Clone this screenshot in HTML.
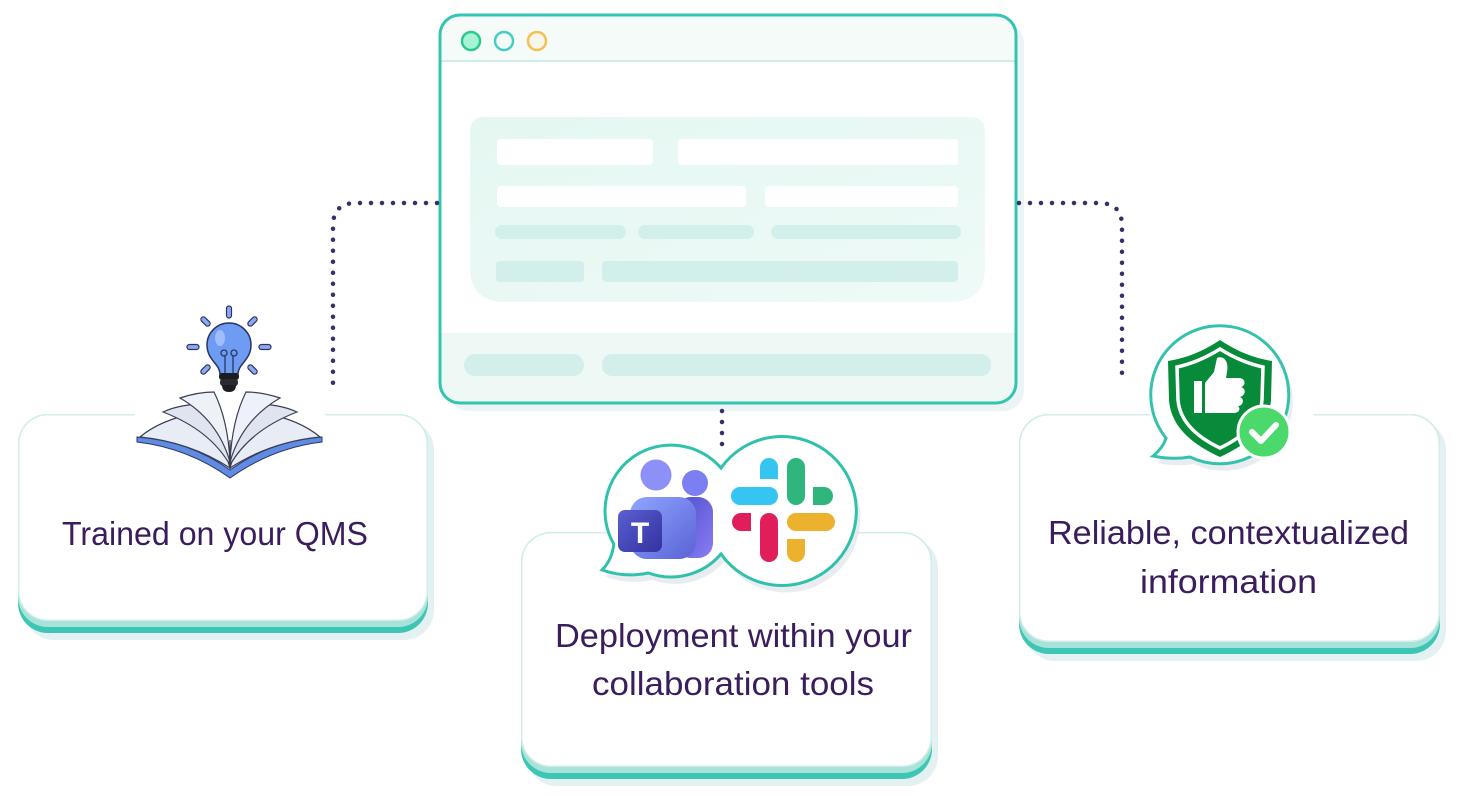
<!DOCTYPE html>
<html><head><meta charset="utf-8"><style>
html,body{margin:0;padding:0;background:#fff;}
svg{display:block;}
text{font-family:"Liberation Sans",sans-serif;fill:#3a1d5c;}
</style></head><body>
<svg width="1468" height="796" viewBox="0 0 1468 796" xmlns="http://www.w3.org/2000/svg">
<defs>
<linearGradient id="panel" x1="0" y1="0" x2="1" y2="1"><stop offset="0" stop-color="#e5f7f2"/><stop offset="1" stop-color="#eefaf7"/></linearGradient>
<linearGradient id="tbig" x1="0" y1="0" x2="1" y2="1"><stop offset="0" stop-color="#8fa6ff"/><stop offset="1" stop-color="#5a62d6"/></linearGradient>
<linearGradient id="tsmall" x1="0" y1="0" x2="1" y2="1"><stop offset="0" stop-color="#4d4fc9"/><stop offset="1" stop-color="#8a7cf5"/></linearGradient>
<linearGradient id="tsq" x1="0" y1="0" x2="1" y2="1"><stop offset="0" stop-color="#5a5fd0"/><stop offset="1" stop-color="#3332a0"/></linearGradient>
<clipPath id="win"><rect x="440" y="15" width="576" height="388" rx="20"/></clipPath>
</defs>

<!-- ===== Cards ===== -->
<rect x="24" y="420" width="410" height="220" rx="30" fill="#e4f1f3"/>
<rect x="18" y="414" width="410" height="219" rx="30" fill="#3cc6b3"/>
<rect x="18" y="414" width="410" height="213" rx="30" fill="#a8e3da"/>
<rect x="18.75" y="414.75" width="408.5" height="205.5" rx="29" fill="#fff" stroke="#d3eeea" stroke-width="1.5"/>

<rect x="527" y="538" width="411" height="248" rx="30" fill="#e4f1f3"/>
<rect x="521" y="532" width="411" height="247" rx="30" fill="#3cc6b3"/>
<rect x="521" y="532" width="411" height="241" rx="30" fill="#a8e3da"/>
<rect x="521.75" y="532.75" width="409.5" height="233.5" rx="29" fill="#fff" stroke="#d3eeea" stroke-width="1.5"/>

<rect x="1025" y="420" width="421" height="241" rx="30" fill="#e4f1f3"/>
<rect x="1019" y="414" width="421" height="240" rx="30" fill="#3cc6b3"/>
<rect x="1019" y="414" width="421" height="234" rx="30" fill="#a8e3da"/>
<rect x="1019.75" y="414.75" width="419.5" height="226.5" rx="29" fill="#fff" stroke="#d3eeea" stroke-width="1.5"/>

<!-- ===== Browser window ===== -->
<rect x="448" y="23" width="576" height="388" rx="20" fill="#edf4f6"/>
<g clip-path="url(#win)">
<rect x="440" y="15" width="576" height="388" fill="#fff"/>
<rect x="440" y="15" width="576" height="46" fill="#f4fbf8"/>
<rect x="440" y="333" width="576" height="70" fill="#eef9f6"/>
</g>
<line x1="441" y1="61" x2="1015" y2="61" stroke="#bfe9e1" stroke-width="1.5"/>
<rect x="440" y="15" width="576" height="388" rx="20" fill="none" stroke="#33c5b1" stroke-width="3"/>
<circle cx="471" cy="41" r="9" fill="#a3f5d6" stroke="#2cc890" stroke-width="2.5"/>
<circle cx="504" cy="41" r="9" fill="#f3fbf9" stroke="#45cdc2" stroke-width="2.5"/>
<circle cx="537" cy="41" r="9" fill="#f7f6ec" stroke="#f6c14a" stroke-width="2.5"/>
<path d="M485 117 H970 Q985 117 985 132 V267 Q985 302 950 302 H505 Q470 302 470 267 V132 Q470 117 485 117 Z" fill="url(#panel)"/>
<rect x="497" y="139" width="156" height="26" rx="4" fill="#fff"/>
<rect x="678" y="139" width="280" height="26" rx="4" fill="#fff"/>
<rect x="497" y="186" width="249" height="21" rx="4" fill="#fff"/>
<rect x="765" y="186" width="193" height="21" rx="4" fill="#fff"/>
<rect x="495" y="225" width="131" height="14" rx="7" fill="#d3efeb"/>
<rect x="638" y="225" width="116" height="14" rx="7" fill="#d3efeb"/>
<rect x="771" y="225" width="190" height="14" rx="7" fill="#d3efeb"/>
<rect x="496" y="261" width="88" height="21" rx="3" fill="#d3efeb"/>
<rect x="602" y="261" width="356" height="21" rx="4" fill="#d3efeb"/>
<rect x="464" y="354" width="120" height="22" rx="11" fill="#d3efeb"/>
<rect x="602" y="354" width="389" height="22" rx="10" fill="#d3efeb"/>

<!-- ===== Connectors ===== -->
<g fill="none" stroke="#3b2c6a" stroke-width="4.5" stroke-linecap="round" stroke-dasharray="0 11">
<path d="M437 203 H356 Q333 203 333 226 V383"/>
<path d="M1019 203 H1099 Q1122 203 1122 226 V383"/>
<path d="M722 411 V445"/>
</g>

<!-- ===== Icon 1 : bulb + book ===== -->
<circle cx="230" cy="426" r="96" fill="#fff"/>
<g stroke="#2d3561" stroke-width="1.2" fill="#8ea8f0" stroke-linecap="round">
<rect x="226.5" y="306" width="5" height="12" rx="2.5"/>
<rect x="187" y="344.5" width="12" height="5" rx="2.5"/>
<rect x="259" y="344.5" width="12" height="5" rx="2.5"/>
<rect x="200" y="319" width="11" height="5" rx="2.5" transform="rotate(45 205.5 321.5)"/>
<rect x="247" y="319" width="11" height="5" rx="2.5" transform="rotate(-45 252.5 321.5)"/>
<rect x="200" y="367" width="11" height="5" rx="2.5" transform="rotate(-45 205.5 369.5)"/>
<rect x="247" y="367" width="11" height="5" rx="2.5" transform="rotate(45 252.5 369.5)"/>
</g>
<path d="M220 374 C220 364 207 360 207 345 A22 22 0 1 1 251 345 C251 360 238 364 238 374 Z" fill="#6e9cf2" stroke="#2d3561" stroke-width="1.5"/>
<ellipse cx="220" cy="338" rx="5" ry="8" fill="#a9c6ff" opacity="0.8"/>
<g fill="none" stroke="#2d3561" stroke-width="1.3">
<path d="M225 373 V356 M233 373 V356"/>
<circle cx="224" cy="353" r="3"/><circle cx="234" cy="353" r="3"/>
</g>
<rect x="219" y="373" width="20" height="7" rx="3" fill="#1c1c22"/>
<rect x="220" y="379" width="18" height="7" rx="3" fill="#2a2a30"/>
<path d="M222 385 H236 Q236 392 229 392 Q222 392 222 385 Z" fill="#1c1c22"/>
<path d="M137 437 Q190 441 230 470 Q270 441 322 437 L322 442 Q272 448 230 478 Q188 448 137 442 Z" fill="#5f8be3" stroke="#2d3561" stroke-width="1"/>
<path d="M140 437 Q160 420 196 413 Q220 430 230 468 Q190 442 140 437 Z" fill="#e8ecf5" stroke="#3a3f55" stroke-width="1.2"/>
<path d="M320 437 Q300 420 264 413 Q240 430 230 468 Q270 442 320 437 Z" fill="#e8ecf5" stroke="#3a3f55" stroke-width="1.2"/>
<path d="M230 465 Q210 430 163 412 Q180 404 206 404 Q225 425 230 465 Z" fill="#dfe4ef" stroke="#3a3f55" stroke-width="1.2"/>
<path d="M230 465 Q250 430 297 412 Q280 404 254 404 Q235 425 230 465 Z" fill="#dfe4ef" stroke="#3a3f55" stroke-width="1.2"/>
<path d="M230 462 Q218 420 180 398 Q198 392 214 392 Q228 420 230 462 Z" fill="#eef1f8" stroke="#3a3f55" stroke-width="1.2"/>
<path d="M230 462 Q242 420 280 398 Q262 392 246 392 Q232 420 230 462 Z" fill="#eef1f8" stroke="#3a3f55" stroke-width="1.2"/>
<path d="M230 468 V440" stroke="#3a3f55" stroke-width="1.2"/>

<!-- ===== Icon 2 : Teams + Slack bubble ===== -->
<path transform="translate(4 7)" d="M721 468 A74.5 74.5 0 1 1 721 554 A66 66 0 0 1 648.4 573 Q625 578 602 570 Q612 560 613.8 544 A66 66 0 0 1 721 468 Z" fill="#dfe6e8" opacity="0.7"/>
<path d="M721 468 A74.5 74.5 0 1 1 721 554 A66 66 0 0 1 648.4 573 Q625 578 602 570 Q612 560 613.8 544 A66 66 0 0 1 721 468 Z" fill="#fff" stroke="#30c1ac" stroke-width="3"/>
<circle cx="695" cy="483" r="13" fill="#7b7ff2"/>
<rect x="676" y="497" width="37" height="61" rx="15" fill="url(#tsmall)"/>
<circle cx="656" cy="475" r="15.5" fill="#8d90f7"/>
<rect x="630" y="497" width="66" height="62" rx="17" fill="url(#tbig)"/>
<rect x="618" y="510" width="44" height="42" rx="7" fill="url(#tsq)"/>
<text x="640" y="543" text-anchor="middle" font-size="30" font-weight="bold" style="fill:#fff">T</text>
<path d="M760 479 V467 A9 9 0 0 1 778 467 V479 Z" fill="#36c5f0"/>
<rect x="731" y="487" width="47" height="18" rx="9" fill="#36c5f0"/>
<rect x="787" y="458" width="18" height="47" rx="9" fill="#2eb67d"/>
<path d="M813 487 H824 A9 9 0 0 1 824 505 H813 Z" fill="#2eb67d"/>
<rect x="760" y="513" width="18" height="49" rx="9" fill="#e01e5a"/>
<path d="M751 513 V531 H741 A9 9 0 0 1 741 513 Z" fill="#e01e5a"/>
<rect x="787" y="513" width="48" height="18" rx="9" fill="#ecb22e"/>
<path d="M787 539 H805 V553 A9 9 0 0 1 787 553 Z" fill="#ecb22e"/>

<!-- ===== Icon 3 : shield bubble ===== -->
<rect x="1150" y="405" width="164" height="16" fill="#fff"/>
<path transform="translate(4 7)" d="M1166 438 A69 69 0 1 1 1190 457 Q1172 460 1153 456 Q1163 448 1166 438 Z" fill="#dfe6e8" opacity="0.7"/>
<path d="M1166 438 A69 69 0 1 1 1190 457 Q1172 460 1153 456 Q1163 448 1166 438 Z" fill="#fff" stroke="#35c2ad" stroke-width="3"/>
<path d="M1220 340 C1202 352 1186 358 1168 361 L1169 400 C1171 428 1194 445 1220 457 C1246 445 1269 428 1271 400 L1272 361 C1254 358 1238 352 1220 340 Z" fill="#078b3a"/>
<path d="M1220 349 C1204 359 1191 364 1177 367 L1178 400 C1180 423 1199 438 1220 448 C1241 438 1260 423 1262 400 L1263 367 C1249 364 1236 359 1220 349 Z" fill="none" stroke="#fff" stroke-width="3.5"/>
<rect x="1194" y="381" width="8" height="32" fill="#fff"/>
<path d="M1205 383 L1214 372 L1217 358 C1224 355 1229 362 1227 372 L1226 378 L1239 378 C1246 378 1246 386 1241 387 C1247 389 1245 396 1240 397 C1245 399 1243 406 1238 406 C1241 409 1239 413 1234 413 L1205 413 Z" fill="#fff"/>
<circle cx="1264" cy="432" r="26" fill="#4cd96b" stroke="#fff" stroke-width="3"/>
<polyline points="1252,432 1261,441 1276,425" fill="none" stroke="#fff" stroke-width="6" stroke-linecap="round" stroke-linejoin="round"/>

<!-- ===== Labels ===== -->
<text x="62" y="545" font-size="33" textLength="306" lengthAdjust="spacingAndGlyphs">Trained on your QMS</text>
<text x="555" y="647" font-size="33" textLength="357" lengthAdjust="spacingAndGlyphs">Deployment within your</text>
<text x="592" y="695" font-size="33" textLength="282" lengthAdjust="spacingAndGlyphs">collaboration tools</text>
<text x="1048" y="544" font-size="33" textLength="361" lengthAdjust="spacingAndGlyphs">Reliable, contextualized</text>
<text x="1140" y="593" font-size="33" textLength="177" lengthAdjust="spacingAndGlyphs">information</text>
</svg>
</body></html>
